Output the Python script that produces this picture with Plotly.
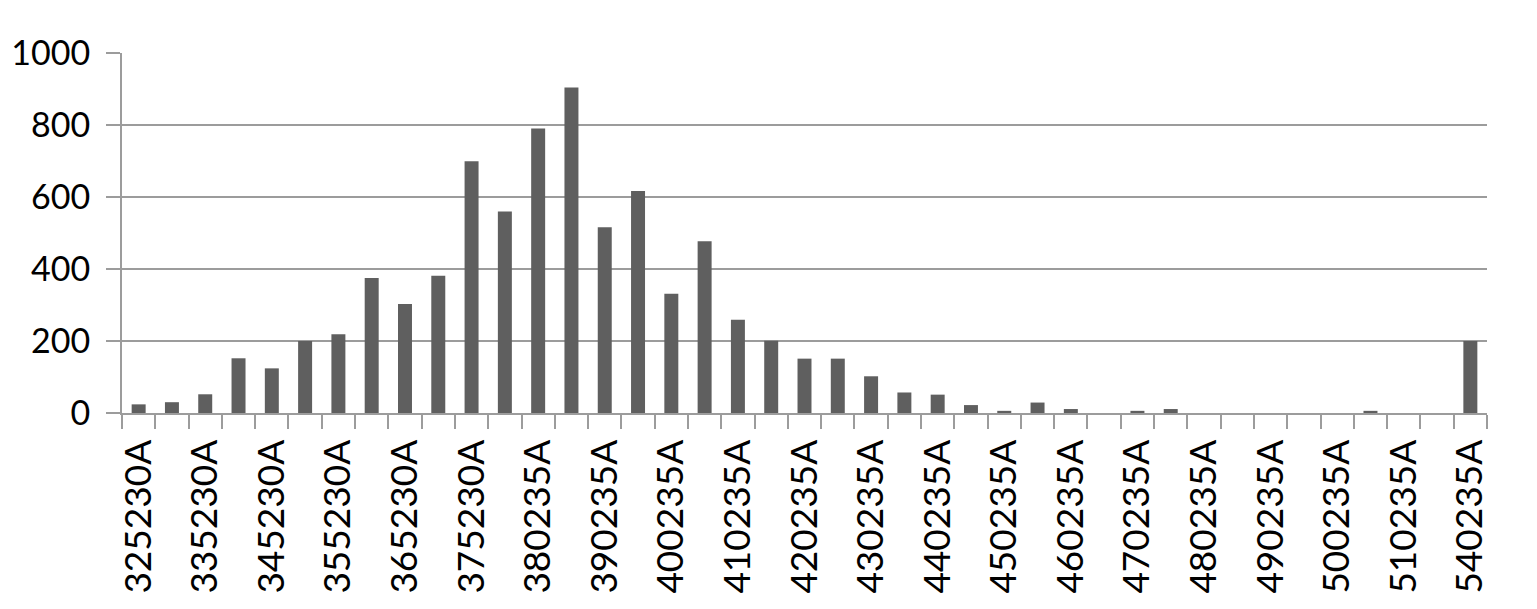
import plotly.graph_objects as go

categories = [
    "325230A", "330230A", "335230A", "340230A", "345230A", "350230A",
    "355230A", "360230A", "365230A", "370230A", "375230A", "380230A",
    "380235A", "385235A", "390235A", "395235A", "400235A", "405235A",
    "410235A", "415235A", "420235A", "425235A", "430235A", "435235A",
    "440235A", "445235A", "450235A", "455235A", "460235A", "465235A",
    "470235A", "475235A", "480235A", "485235A", "490235A", "495235A",
    "500235A", "505235A", "510235A", "520235A", "540235A",
]
counts = [
    24, 30, 52, 152, 124, 200, 219, 375, 303, 381, 699, 560,
    790, 904, 516, 617, 331, 477, 259, 201, 151, 151, 102, 57,
    51, 22, 6, 29, 11, 0, 6, 11, 0, 0, 0, 0,
    0, 6, 0, 0, 200,
]
# every other category carries a visible label
tick_labels = [c if i % 2 == 0 else "" for i, c in enumerate(categories)]
y_ticks = [0, 200, 400, 600, 800, 1000]

GRID = "#9c9c9c"
BAR = "#5f5f5f"
FONT = "Lato"

fig = go.Figure(
    go.Bar(
        x=categories,
        y=counts,
        marker=dict(color=BAR, line=dict(width=0)),
        width=0.42,
    )
)

fig.update_layout(
    width=1537,
    height=609,
    margin=dict(l=114, r=58, t=45, b=204),
    paper_bgcolor="white",
    plot_bgcolor="white",
    showlegend=False,
    font=dict(family=FONT, size=35, color="black"),
)

fig.update_xaxes(
    type="category",
    categoryorder="array",
    categoryarray=categories,
    tickmode="array",
    tickvals=categories,
    ticktext=tick_labels,
    tickson="boundaries",
    ticks="outside",
    ticklen=14,
    tickwidth=2,
    tickcolor=GRID,
    showline=True,
    linecolor=GRID,
    linewidth=2,
    showgrid=False,
    tickangle=-90,
    ticklabelstandoff=10,
    automargin=False,
    tickfont=dict(family=FONT, size=37, color="black"),
    range=[-0.5, len(categories) - 0.5],
)

fig.update_yaxes(
    range=[0, 1000],
    tickmode="array",
    tickvals=y_ticks,
    ticks="outside",
    ticklen=14,
    tickwidth=2,
    tickcolor=GRID,
    showline=True,
    linecolor=GRID,
    linewidth=2,
    showgrid=True,
    gridcolor=GRID,
    gridwidth=2,
    zeroline=False,
    ticklabelstandoff=9,
    automargin=False,
    tickfont=dict(family=FONT, size=34, color="black"),
)

fig.write_html("out.html")
